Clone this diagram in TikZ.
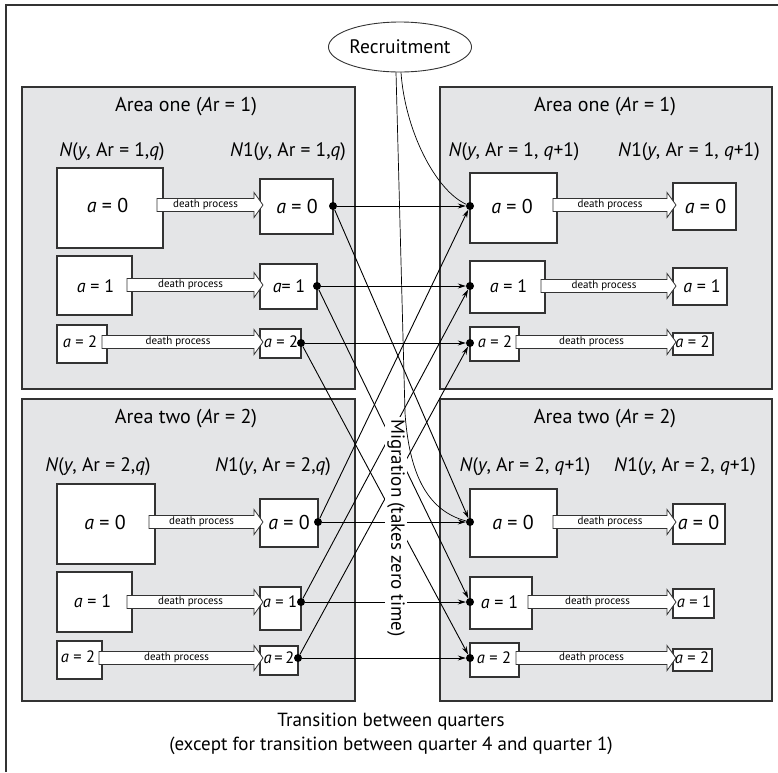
\documentclass[tikz,border=0pt]{standalone}
\usepackage{fontspec}
\setmainfont{PT Sans}
\usetikzlibrary{arrows.meta,shapes.geometric}
\definecolor{areagray}{HTML}{E4E5E7}
\definecolor{linegray}{HTML}{333333}
\newcommand\dparrow[4]{%
  \draw[dp] (#2,#4-6.5) -- (#3-9,#4-6.5) -- (#3-9,#4-12.5) -- (#3,#4) -- (#3-9,#4+12.5) -- (#3-9,#4+6.5) -- (#2,#4+6.5) -- cycle;
  \node[dptext] (#1) at ({(#2+#3-9)/2},#4) {death process};}
\newcommand\ia{\textit{a}}
\begin{document}
\begin{tikzpicture}[x=1pt,y=-1pt,
  area/.style={draw=linegray, line width=1.3pt, fill=areagray},
  agebox/.style={draw=linegray, line width=1.1pt, fill=white, inner sep=0pt},
  bigt/.style={font=\fontsize{20}{22}\selectfont, inner sep=0pt},
  midt/.style={font=\fontsize{18}{20}\selectfont, inner sep=0pt},
  smallt/.style={font=\fontsize{16.5}{18}\selectfont, inner sep=0pt},
  areatitle/.style={font=\fontsize{20}{22}\selectfont, inner sep=0pt},
  lab/.style={font=\fontsize{19.5}{22}\selectfont, inner sep=0pt},
  dp/.style={draw=linegray, line width=0.8pt, fill=white},
  dptext/.style={font=\fontsize{11}{12}\selectfont, inner sep=0pt},
  mig/.style={-{Stealth[length=8pt,width=5pt]}, line width=0.9pt},
  dot/.style={circle, fill=black, inner sep=0pt, minimum size=8pt},
  rec/.style={line width=0.7pt},
]
\useasboundingbox (0,0) rectangle (778,772);
\draw[line width=1.2pt, linegray] (6,772) -- (6,5) -- (778,5);

% areas
\node[area, minimum width=333pt, minimum height=302pt, inner sep=0pt] (tlA) at (188.5,238) {};
\node[area, minimum width=332pt, minimum height=302pt, inner sep=0pt] (trA) at (606,238) {};
\node[area, minimum width=333pt, minimum height=302pt, inner sep=0pt] (blA) at (188.5,550) {};
\node[area, minimum width=332pt, minimum height=302pt, inner sep=0pt] (brA) at (606,550) {};

\node[areatitle] (tlT) at (186,107) {Area one (\textit{A}r = 1)};
\node[areatitle] (trT) at (605,107) {Area one (\textit{A}r = 1)};
\node[areatitle] (blT) at (186,419) {Area two (\textit{A}r = 2)};
\node[areatitle] (brT) at (605,419) {Area two (\textit{A}r = 2)};

\node[lab] (tlN) at (112,152) {\textit{N}(\textit{y}, Ar = 1,\textit{q})};
\node[lab] (tlN1) at (288,152) {\textit{N}1(\textit{y}, Ar = 1,\textit{q})};
\node[lab] (trN) at (514,152) {\textit{N}(\textit{y}, Ar = 1, \textit{q}+1)};
\node[lab] (trN1) at (689,152) {\textit{N}1(\textit{y}, Ar = 1, \textit{q}+1)};
\node[lab] (blN) at (98,467) {\textit{N}(\textit{y}, Ar = 2,\textit{q})};
\node[lab] (blN1) at (273,467) {\textit{N}1(\textit{y}, Ar = 2,\textit{q})};
\node[lab] (brN) at (525,467) {\textit{N}(\textit{y}, Ar = 2, \textit{q}+1)};
\node[lab] (brN1) at (685,467) {\textit{N}1(\textit{y}, Ar = 2, \textit{q}+1)};

% boxes top-left
\node[agebox, minimum width=106pt, minimum height=80pt] (tlL0) at (110,208) {};
\node[agebox, minimum width=73pt, minimum height=55pt] (tlR0) at (296.5,206.5) {};
\node[agebox, minimum width=75pt, minimum height=59pt] (tlL1) at (94.5,285.5) {};
\node[agebox, minimum width=57pt, minimum height=45pt] (tlR1) at (288.5,286.5) {};
\node[agebox, minimum width=50pt, minimum height=38pt] (tlL2) at (82,344) {};
\node[agebox, minimum width=41pt, minimum height=29pt] (tlR2) at (280.5,343.5) {};
% boxes top-right
\node[agebox, minimum width=87pt, minimum height=70pt] (trL0) at (513.5,208) {};
\node[agebox, minimum width=63pt, minimum height=47pt] (trR0) at (704.5,206.5) {};
\node[agebox, minimum width=75pt, minimum height=52pt] (trL1) at (507.5,287) {};
\node[agebox, minimum width=54pt, minimum height=37pt] (trR1) at (700,286.5) {};
\node[agebox, minimum width=49pt, minimum height=34pt] (trL2) at (494.5,344) {};
\node[agebox, minimum width=40pt, minimum height=22pt] (trR2) at (693,344) {};
% boxes bottom-left
\node[agebox, minimum width=98pt, minimum height=80pt] (blL0) at (106,524) {};
\node[agebox, minimum width=58pt, minimum height=48pt] (blR0) at (289,523) {};
\node[agebox, minimum width=75pt, minimum height=60pt] (blL1) at (94.5,602) {};
\node[agebox, minimum width=41pt, minimum height=43pt] (blR1) at (280.5,608.5) {};
\node[agebox, minimum width=45pt, minimum height=38pt] (blL2) at (79.5,660) {};
\node[agebox, minimum width=38pt, minimum height=29pt] (blR2) at (279,660.5) {};
% boxes bottom-right
\node[agebox, minimum width=87pt, minimum height=68pt] (brL0) at (513.5,523) {};
\node[agebox, minimum width=52pt, minimum height=40pt] (brR0) at (699,524) {};
\node[agebox, minimum width=62pt, minimum height=52pt] (brL1) at (501,603) {};
\node[agebox, minimum width=41pt, minimum height=29pt] (brR1) at (693.5,603.5) {};
\node[agebox, minimum width=49pt, minimum height=34pt] (brL2) at (494.5,660) {};
\node[agebox, minimum width=39pt, minimum height=22pt] (brR2) at (692.5,660) {};

% death process arrows
\dparrow{tlP0}{157}{263}{205}
\dparrow{tlP1}{127}{263}{285}
\dparrow{tlP2}{102}{263}{342}
\dparrow{trP0}{553}{676}{205}
\dparrow{trP1}{541}{676}{286}
\dparrow{trP2}{516}{676}{342}
\dparrow{blP0}{149}{263}{522}
\dparrow{blP1}{127}{263}{602}
\dparrow{blP2}{99}{263}{658}
\dparrow{brP0}{553}{676}{522}
\dparrow{brP1}{528}{676}{602}
\dparrow{brP2}{516}{676}{658}

% texts in boxes
\node[bigt] (tlL0t) at (107.5,205) {\ia{} = 0};
\node[bigt] (tlR0t) at (297,206) {\ia{} = 0};
\node[midt] (tlL1t) at (95.5,286) {\ia{} = 1};
\node[midt] (tlR1t) at (289,286) {\ia{}= 1};
\node[smallt] (tlL2t) at (80,342) {\ia{} = 2};
\node[smallt] (tlR2t) at (281,342) {\ia{} = 2};
\node[bigt] (trL0t) at (512,206) {\ia{} = 0};
\node[bigt] (trR0t) at (705.5,206) {\ia{} = 0};
\node[midt] (trL1t) at (508.5,286) {\ia{} = 1};
\node[midt] (trR1t) at (702,286) {\ia{} = 1};
\node[smallt] (trL2t) at (495,342) {\ia{} = 2};
\node[smallt] (trR2t) at (692.5,342) {\ia{} = 2};
\node[bigt] (blL0t) at (105,522) {\ia{} = 0};
\node[bigt] (blR0t) at (289,522) {\ia{} = 0};
\node[midt] (blL1t) at (92.5,601) {\ia{} = 1};
\node[smallt] (blR1t) at (280,602) {\ia{} = 1};
\node[smallt] (blL2t) at (78,657) {\ia{} = 2};
\node[smallt] (blR2t) at (279,658) {\ia{}\,=\,2};
\node[bigt] (brL0t) at (513,522) {\ia{} = 0};
\node[bigt] (brR0t) at (698.5,522) {\ia{} = 0};
\node[midt] (brL1t) at (499.5,602) {\ia{} = 1};
\node[smallt] (brR1t) at (694,602) {\ia{} = 1};
\node[smallt] (brL2t) at (494,658) {\ia{} = 2};
\node[smallt] (brR2t) at (692,658) {\ia{} = 2};

% dots
\node[dot] (tlD0) at (333,206) {};
\node[dot] (tlD1) at (317,286) {};
\node[dot] (tlD2) at (301,343) {};
\node[dot] (blD0) at (318,522) {};
\node[dot] (blD1) at (301,602) {};
\node[dot] (blD2) at (298,658) {};
\node[dot] (trD0) at (470,206) {};
\node[dot] (trD1) at (470,286) {};
\node[dot] (trD2) at (470,343) {};
\node[dot] (brD0) at (470,522) {};
\node[dot] (brD1) at (470,602) {};
\node[dot] (brD2) at (470,658) {};

% migration
\draw[mig] (tlD0) -- (trD0);
\draw[mig] (tlD1) -- (trD1);
\draw[mig] (tlD2) -- (trD2);
\draw[mig] (blD0) -- (brD0);
\draw[mig] (blD1) -- (brD1);
\draw[mig] (blD2) -- (brD2);
\draw[mig] (tlD0) -- (brD0);
\draw[mig] (tlD1) -- (brD1);
\draw[mig] (tlD2) -- (brD2);
\draw[mig] (blD0) -- (trD0);
\draw[mig] (blD1) -- (trD1);
\draw[mig] (blD2) -- (trD2);

\node[lab, font=\fontsize{19}{22}\selectfont, rotate=-90, fill=white, inner xsep=2pt, inner ysep=2pt] (migl) at (396,528) {Migration (takes zero time)};

% recruitment
\node[draw=linegray, line width=0.9pt, ellipse, minimum width=131pt, minimum height=50pt, inner sep=0pt, lab] (rec) at (400,47) {Recruitment};
\draw[rec] ([xshift=1pt]rec.south) .. controls (405,130) and (435,190) .. (trD0);
\draw[rec] ([xshift=-4pt]rec.south) -- (405,413) .. controls (409,470) and (425,510) .. (brD0);

\node[lab, align=center, font=\fontsize{19}{24}\selectfont] (trans) at (391,734) {Transition between quarters\\(except for transition between quarter 4 and quarter 1)};
\end{tikzpicture}
\end{document}
